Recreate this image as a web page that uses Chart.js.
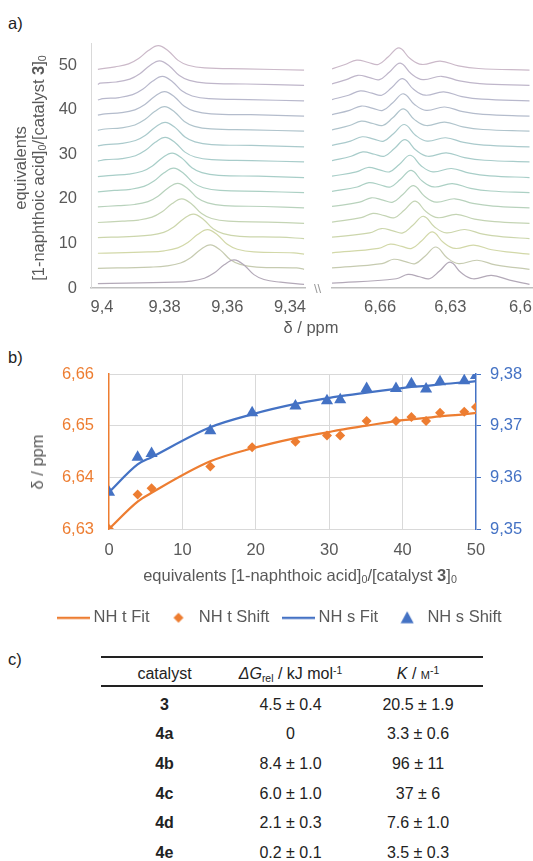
<!DOCTYPE html>
<html>
<head>
<meta charset="utf-8">
<script src="https://cdn.jsdelivr.net/npm/chart.js@4.4.1/dist/chart.umd.min.js"></script>
<style>
  body { margin: 0; width: 533px; height: 861px; position: relative; overflow: hidden; background: #fff;
         font-family: "Liberation Sans", Arial, sans-serif; color: #595959; }
  canvas { position: absolute; display: block; }
  .txt { position: absolute; white-space: nowrap; font-size: 16.5px; line-height: 18px; }
  .panel { color: #222; font-size: 16.5px; }
  .rot { transform: translate(-50%, -50%) rotate(-90deg); }
  .ctr { transform: translate(-50%, -50%); }
  sub { font-size: 65%; vertical-align: -0.25em; }
  sup { font-size: 65%; vertical-align: 0.45em; }
  #tbl { position: absolute; left: 101px; top: 656px; width: 382px; border-collapse: collapse; color: #222; font-size: 16px; }
  #tbl th, #tbl td { text-align: center; padding: 0; font-weight: normal; }
  #tbl th { padding-top: 5px; }
  #tbl td { padding-top: 8px; }
  #tbl thead tr { height: 29px; border-top: 2px solid #222; border-bottom: 2px solid #222; }
  #tbl tbody tr { height: 29.6px; }
  #tbl td.cat { font-weight: bold; }
</style>
</head>
<body>

<div class="txt panel" style="left:8px;top:14px">a)</div>
<div class="txt panel" style="left:8px;top:348px">b)</div>
<div class="txt panel" style="left:8px;top:650px">c)</div>

<canvas id="specLeft" width="310" height="320" style="left:0;top:0"></canvas>
<canvas id="specRight" width="208" height="320" style="left:325px;top:0"></canvas>
<div class="txt rot" style="left:20px;top:168px">equivalents</div>
<div class="txt rot" style="left:40px;top:168px">[1-naphthoic acid]<sub>0</sub>/[catalyst <b>3</b>]<sub>0</sub></div>
<div class="txt ctr" style="left:311px;top:327px">δ / ppm</div>
<div class="txt" style="left:314px;top:280px;font-size:13px;color:#9a9a9a">\\</div>

<canvas id="fitChart" width="533" height="291" style="left:0;top:345px"></canvas>
<div class="txt rot" style="left:37px;top:462px">δ / ppm</div>
<div class="txt ctr" style="left:300px;top:577px">equivalents [1-naphthoic acid]<sub>0</sub>/[catalyst <b>3</b>]<sub>0</sub></div>

<table id="tbl">
  <thead><tr>
    <th style="width:127px">catalyst</th>
    <th style="width:125px"><i>ΔG</i><sub>rel</sub> / kJ mol<sup>-1</sup></th>
    <th style="width:130px"><i>K</i> / <span style="font-variant:small-caps">m</span><sup>-1</sup></th>
  </tr></thead>
  <tbody></tbody>
</table>

<script>
// ---- panel a: stacked 1H NMR spectra (bottom trace first) ----
const traceBaselines = [0.8, 4.2, 7.6, 11.1, 14.5, 18.0, 21.4, 24.8, 28.3, 31.7, 35.2, 38.6, 42.0, 45.5, 48.9];
const nhsPeaks = [9.3578, 9.3654, 9.3663, 9.3708, 9.3745, 9.3758, 9.3771, 9.3776, 9.3798, 9.3798, 9.3800, 9.3800, 9.3807, 9.3816, 9.3820];
const nhtCenters = [6.6300, 6.6361, 6.6376, 6.6414, 6.6450, 6.6457, 6.6467, 6.6471, 6.6493, 6.6496, 6.6500, 6.6500, 6.6504, 6.6514, 6.6519];
const traceColors = ['#b3a9b8', '#c6cbb0', '#d2d8a8', '#ccd6ac', '#c4d4b4', '#b8d2bc', '#acd0c4', '#a8cec8',
                     '#a8ccca', '#aacacc', '#b0c4cc', '#b4bccc', '#b8b8cc', '#bfb6ca', '#cbb9c9'];
// peak shapes (ppm from peak, height in equivalents)
const singletOffsets = [0.019, 0.0138, 0.0095, 0.0063, 0.0032, 0, -0.0032, -0.0063, -0.0095, -0.0148, -0.0275];
const singletHeights = [0.5, 0.75, 1.4, 2.6, 4.4, 5.5, 4.3, 2.2, 1.1, 0.5, 0.3];
const tripletOffsets = [0.0231, 0.0181, 0.0131, 0.0089, 0.0046, 0, -0.0047, -0.0097, -0.0176, -0.0254, -0.034];
const tripletHeights = [1.28, 2.25, 1.73, 1.28, 3.0, 5.0, 2.6, 1.28, 2.03, 0.98, 0.38];
const equivTicks = [0, 10, 20, 30, 40, 50];
const ppmTicksLeft = [9.4, 9.38, 9.36, 9.34];
const ppmTicksRight = [6.66, 6.63, 6.6];

// ---- panel b: titration fit ----
const equivalents = [0, 3.9, 5.8, 13.8, 19.5, 25.4, 29.7, 31.5, 35.1, 39.1, 41.2, 43.2, 45.1, 48.4, 50];
const nhtShift = [6.6300, 6.6367, 6.6379, 6.6421, 6.6458, 6.6469, 6.6481, 6.6481, 6.6509, 6.6509, 6.6517, 6.6509, 6.6525, 6.6527, 6.6536];
const nhtFit   = [6.6300, 6.6353, 6.6370, 6.6431, 6.6456, 6.6476, 6.6487, 6.6492, 6.6500, 6.6509, 6.6512, 6.6515, 6.6518, 6.6522, 6.6525];
const nhsShift = [9.3571, 9.3639, 9.3646, 9.3690, 9.3725, 9.3738, 9.3748, 9.3750, 9.3772, 9.3772, 9.3781, 9.3771, 9.3785, 9.3787, 9.3797];
const nhsFit   = [9.3571, 9.3625, 9.3639, 9.3697, 9.3722, 9.3742, 9.3753, 9.3757, 9.3764, 9.3771, 9.3775, 9.3777, 9.3780, 9.3784, 9.3786];
const eqTicks = [0, 10, 20, 30, 40, 50];
const nhtTicks = [6.63, 6.64, 6.65, 6.66];
const nhsTicks = [9.35, 9.36, 9.37, 9.38];

// ---- panel c: table ----
const catalysts = ['3', '4a', '4b', '4c', '4d', '4e'];
const deltaG = ['4.5 ± 0.4', '0', '8.4 ± 1.0', '6.0 ± 1.0', '2.1 ± 0.3', '0.2 ± 0.1'];
const bindingK = ['20.5 ± 1.9', '3.3 ± 0.6', '96 ± 11', '37 ± 6', '7.6 ± 1.0', '3.5 ± 0.3'];

const orange = '#ED7D31';
const blue = '#4472C4';
Chart.defaults.font.family = '"Liberation Sans", Arial, sans-serif';
Chart.defaults.font.size = 16.5;
Chart.defaults.color = '#595959';

const ppm = v => String(+v.toFixed(2)).replace('.', ',');

function traces(centers, offsets, heights, left, right, edge) {
  return centers.map((c, i) => {
    let pts = [{ x: left, y: traceBaselines[i] + edge }];
    offsets.forEach((o, k) => {
      if (c + o < left - 0.0005 && c + o > right + 0.0005) pts.push({ x: c + o, y: traceBaselines[i] + heights[k] });
    });
    pts.push({ x: right, y: traceBaselines[i] });
    return { data: pts, borderColor: traceColors[i], borderWidth: 1.2, pointRadius: 0, tension: 0.4 };
  });
}

function spectrum(id, datasets, xMin, xMax, xTicks, showY) {
  return new Chart(document.getElementById(id), {
    type: 'line',
    data: { datasets: datasets },
    options: {
      responsive: false, animation: false, events: [],
      layout: { padding: { top: 43, right: showY ? 5 : 0, left: showY ? 0 : 7 } },
      plugins: { legend: { display: false }, tooltip: { enabled: false } },
      scales: {
        x: { type: 'linear', reverse: true, min: xMin, max: xMax,
             afterBuildTicks: s => { s.ticks = xTicks.map(v => ({ value: v })); },
             afterFit: s => { s.height = 32; s.paddingLeft = 0; s.paddingRight = 0; },
             grid: { display: false, drawTicks: false }, border: { color: '#bfbfbf', width: 1.5 },
             ticks: { padding: 10, maxRotation: 0, callback: v => ppm(v) } },
        y: { display: showY, min: 0, max: 55,
             afterBuildTicks: s => { s.ticks = equivTicks.map(v => ({ value: v })); },
             afterFit: s => { if (showY) s.width = 91; },
             grid: { display: false, drawTicks: false }, border: { color: '#d9d9d9' },
             ticks: { padding: 14 } }
      }
    }
  });
}

spectrum('specLeft', traces(nhsPeaks, singletOffsets, singletHeights, 9.4013, 9.3355, 0.2),
         9.3352, 9.4035, ppmTicksLeft, true);
spectrum('specRight', traces(nhtCenters, tripletOffsets, tripletHeights, 6.6806, 6.5961, 0.3),
         6.5946, 6.6806, ppmTicksRight, false);

// little marker images for the legend (so the fit lines can be longer than the markers)
function marker(kind, color) {
  const c = document.createElement('canvas');
  c.width = 14; c.height = 14;
  const g = c.getContext('2d');
  g.fillStyle = color;
  g.beginPath();
  if (kind === 'diamond') { g.moveTo(7, 2); g.lineTo(12, 7); g.lineTo(7, 12); g.lineTo(2, 7); }
  else { g.moveTo(7, 0.5); g.lineTo(13.5, 12.5); g.lineTo(0.5, 12.5); }
  g.closePath(); g.fill();
  return c;
}
function lineMark(color) {
  const c = document.createElement('canvas');
  c.width = 33; c.height = 4;
  const g = c.getContext('2d');
  g.fillStyle = color; g.fillRect(0, 1, 33, 2.25);
  return c;
}
const legendMarks = [lineMark(orange), marker('diamond', orange), lineMark(blue), marker('triangle', blue)];

const xy = (xs, ys) => xs.map((x, i) => ({ x: x, y: ys[i] }));

new Chart(document.getElementById('fitChart'), {
  type: 'line',
  data: {
    datasets: [
      { label: 'NH t Fit', data: xy(equivalents, nhtFit), yAxisID: 'y', borderColor: orange, backgroundColor: orange,
        borderWidth: 2.25, pointRadius: 0, cubicInterpolationMode: 'monotone' },
      { label: 'NH t Shift', data: xy(equivalents, nhtShift), yAxisID: 'y', showLine: false, pointStyle: 'rectRot',
        pointRadius: 5, borderColor: orange, backgroundColor: orange, borderWidth: 0 },
      { label: 'NH s Fit', data: xy(equivalents, nhsFit), yAxisID: 'y2', borderColor: blue, backgroundColor: blue,
        borderWidth: 2.25, pointRadius: 0, cubicInterpolationMode: 'monotone' },
      { label: 'NH s Shift', data: xy(equivalents, nhsShift), yAxisID: 'y2', showLine: false, pointStyle: 'triangle',
        pointRadius: 7, borderColor: blue, backgroundColor: blue, borderWidth: 0 }
    ]
  },
  options: {
    responsive: false, animation: false, events: [],
    layout: { padding: { top: 29, left: 30 } },
    plugins: {
      tooltip: { enabled: false },
      legend: {
        position: 'bottom',
        labels: {
          usePointStyle: true, pointStyleWidth: 24, padding: 17,
          generateLabels: chart => {
            const items = Chart.defaults.plugins.legend.labels.generateLabels(chart);
            items.forEach((it, i) => { it.pointStyle = legendMarks[i]; });
            return items;
          }
        }
      }
    },
    scales: {
      x: { type: 'linear', min: 0, max: 50,
           afterBuildTicks: s => { s.ticks = eqTicks.map(v => ({ value: v })); },
           afterFit: s => { s.height = 63.5; },
           grid: { drawTicks: false, color: c => (c.tick && (c.tick.value === 0 || c.tick.value === 50)) ? 'rgba(0,0,0,0)' : '#d9d9d9' },
           border: { color: '#d9d9d9' },
           ticks: { padding: 12 } },
      y: { position: 'left', min: 6.63, max: 6.66,
           afterBuildTicks: s => { s.ticks = nhtTicks.map(v => ({ value: v })); },
           afterFit: s => { s.width = 79; },
           grid: { drawTicks: false, color: '#d9d9d9' },
           border: { color: orange, width: 1.5 },
           ticks: { color: orange, padding: 15, callback: v => ppm(v) } },
      y2: { position: 'right', min: 9.35, max: 9.38,
            afterBuildTicks: s => { s.ticks = nhsTicks.map(v => ({ value: v })); },
            afterFit: s => { s.width = 57; },
            grid: { drawOnChartArea: false, drawTicks: true, tickLength: 5, color: blue },
            border: { color: blue, width: 1.5 },
            ticks: { color: blue, padding: 9, callback: v => ppm(v) } }
    }
  }
});

const tbody = document.querySelector('#tbl tbody');
catalysts.forEach((c, i) => {
  const tr = document.createElement('tr');
  tr.innerHTML = '<td class="cat">' + c + '</td><td>' + deltaG[i] + '</td><td>' + bindingK[i] + '</td>';
  tbody.appendChild(tr);
});
</script>
</body>
</html>
